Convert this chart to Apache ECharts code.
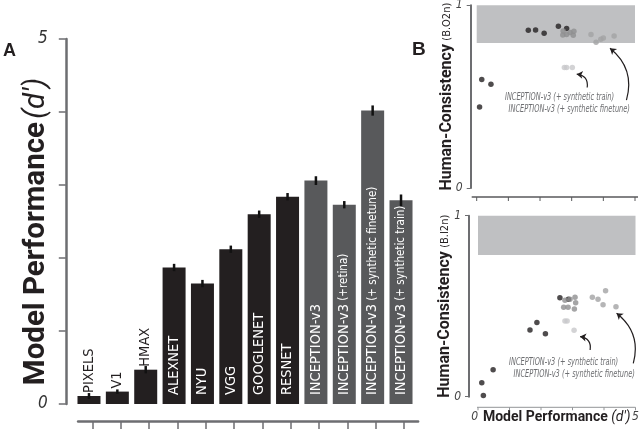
<!DOCTYPE html>
<html><head><meta charset="utf-8">
<script src="https://cdn.jsdelivr.net/npm/echarts@6/dist/echarts.min.js"></script>
<style>html,body{margin:0;padding:0;background:#fff;}#c{width:640px;height:429px;}</style>
</head><body><div id="c"></div>
<script>
// ---------- DATA ----------
const models = ['PIXELS','V1','HMAX','ALEXNET','NYU','VGG','GOOGLENET','RESNET',
  'INCEPTION-v3','INCEPTION-v3 (+retina)','INCEPTION-v3 (+ synthetic finetune)','INCEPTION-v3 (+ synthetic train)'];
const labelMain = ['PIXELS','V1','HMAX','ALEXNET','NYU','VGG','GOOGLENET','RESNET',
  'INCEPTION-v3','INCEPTION-v3','INCEPTION-v3','INCEPTION-v3'];
const labelSuffix = ['','','','','','','','','','(+retina)','(+ synthetic finetune)','(+ synthetic train)'];
const performance = [0.11,0.17,0.47,1.87,1.65,2.12,2.60,2.84,3.06,2.73,4.02,2.79];
const perfError   = [0.04,0.03,0.05,0.05,0.05,0.05,0.05,0.05,0.06,0.05,0.07,0.08];
const isInception = [0,0,0,0,0,0,0,0,1,1,1,1];
const perfTicks = [0,5];
const perfTickValues = [0,1,2,3,4,5];

// Human consistency, B.O2n  [d', consistency]
const o2nBase      = [[0.09,0.443],[0.16,0.594],[0.45,0.568],[1.86,0.865],[1.63,0.863],[2.13,0.847],[2.58,0.885],[2.84,0.873]];
const o2nInception = [[2.73,0.860],[2.72,0.838],[2.84,0.840],[2.95,0.851],[3.07,0.858],[3.05,0.836]];
const o2nFinetune  = [[3.61,0.840],[3.77,0.798],[3.92,0.814],[4.00,0.821],[4.34,0.832]];
const o2nTrain     = [[2.77,0.660],[2.84,0.660],[3.02,0.660]];
const o2nBand      = [0.794,1];
// Human consistency, B.I2n
const i2nBase      = [[0.12,0.077],[0.17,0.006],[0.48,0.149],[1.87,0.410],[1.65,0.368],[2.14,0.348],[2.60,0.547],[2.87,0.538]];
const i2nInception = [[2.76,0.533],[2.92,0.538],[3.08,0.549],[3.10,0.519],[2.72,0.494],[2.86,0.494],[3.06,0.485]];
const i2nFinetune  = [[3.63,0.549],[3.81,0.538],[4.05,0.585],[3.97,0.508],[4.38,0.497]];
const i2nTrain     = [[2.76,0.418],[2.83,0.418],[3.05,0.367]];
const i2nBand      = [0.783,1];
const consTicks = [0,1];
const annotTexts = ['INCEPTION-v3 (+ synthetic train)','INCEPTION-v3 (+ synthetic finetune)'];

// ---------- STYLE / LAYOUT ----------
const NARROW = '"Liberation Sans Narrow","DejaVu Sans Condensed","Roboto",sans-serif';
const BOLD = 'Roboto,"Liberation Sans",sans-serif';
const DARK = '#231f20', GREY = '#58595b';
// annotation anchors in data space (text right end) and arrows [from, to, curveness]
const o2nTextAt = [[4.34,0.499],[4.84,0.432]];
const i2nTextAt = [[4.45,0.188],[4.98,0.124]];
const o2nArrows = [[[3.49,0.550],[3.16,0.623],-0.5],[[4.73,0.481],[4.21,0.765],-0.33]];
const i2nArrows = [[[3.56,0.258],[3.24,0.332],-0.5],[[4.93,0.184],[4.40,0.461],-0.33]];

const chart = echarts.init(document.getElementById('c'), null, {renderer:'canvas'});

const barData = performance.map((v,i)=>({
  value: v,
  itemStyle:{color: isInception[i] ? GREY : DARK},
  label: i<3 ? {position:'top', color:DARK, distance:3} : {position:'insideBottom', color:'#fff', distance:9}
}));

const scatterCommon = {type:'scatter', symbolSize:5.5, silent:true};
function arrowSeries(xi, yi, list){
  return {type:'lines', coordinateSystem:'cartesian2d', xAxisIndex:xi, yAxisIndex:yi, silent:true, z:4,
    symbol:['none','arrow'], symbolSize:6,
    lineStyle:{color:DARK, width:1.2, opacity:1, curveness:-0.4},
    data:list.map(a=>({coords:[a[0],a[1]], lineStyle:{curveness:a[2]}}))};
}

function consAxisY(grid, off, name){
  return {type:'value', gridIndex:grid, position:'left', min:0, max:1, interval:1, offset:off,
    axisLine:{show:true, onZero:false, lineStyle:{color:'#6d6e71', width:2}},
    axisTick:{show:true, length:4, lineStyle:{color:'#6d6e71'}},
    axisLabel:{formatter:v=>consTicks.includes(v)?String(v):'', fontStyle:'italic', fontSize:12, color:'#444', margin:8, fontFamily:NARROW},
    splitLine:{show:false},
    name:`{b|Human-Consistency} {n|(${name})}`, nameLocation:'middle', nameRotate:90, nameGap:16, nameMoveOverlap:false,
    nameTextStyle:{rich:{b:{fontFamily:BOLD, fontWeight:'bold', fontSize:16, color:DARK}, n:{fontFamily:NARROW, fontSize:11, color:DARK}}}
  };
}

const option = {
  animation:false,
  backgroundColor:'#fff',
  grid:[
    {left:74.8, top:39, width:340.4, height:365, outerBoundsMode:'none'},
    {left:476.7, top:5.3, width:158.3, height:182.7, outerBoundsMode:'none'},
    {left:478, top:215.7, width:157.5, height:181, outerBoundsMode:'none'},
    {left:78.1, top:39, width:340, height:365, outerBoundsMode:'none'}
  ],
  xAxis:[
    {type:'category', gridIndex:0, data:models, show:false},
    {type:'category', gridIndex:3, position:'bottom', data:models, offset:17,
      axisLine:{show:true, onZero:false, lineStyle:{color:'#6d6e71', width:2.5}},
      axisTick:{show:true, interval:0, alignWithLabel:true, length:9, lineStyle:{color:'#6d6e71', width:1.5}},
      axisLabel:{show:false, interval:0}},
    {type:'value', gridIndex:1, position:'bottom', min:0, max:5, interval:1, offset:9,
      axisLine:{show:false}, axisTick:{show:false}, axisLabel:{show:false}, splitLine:{show:false}},
    {type:'value', gridIndex:2, position:'bottom', min:0, max:5, interval:1, offset:10.6,
      axisLine:{show:false}, axisTick:{show:false},
      axisLabel:{formatter:v=>perfTicks.includes(v)?String(v):'', alignMinLabel:'right', fontStyle:'italic', fontSize:12, color:'#444', margin:4, fontFamily:NARROW},
      splitLine:{show:false},
      name:'{b|Model Performance} {i|(d′)}', nameLocation:'middle', nameGap:3, nameMoveOverlap:false,
      nameTextStyle:{verticalAlign:'top', rich:{b:{fontFamily:BOLD, fontWeight:'bold', fontSize:14, color:DARK}, i:{fontFamily:BOLD, fontStyle:'italic', fontSize:14, color:DARK}}}}
  ],
  yAxis:[
    {type:'value', gridIndex:0, position:'left', min:0, max:5, interval:1, offset:9,
      axisLine:{show:true, onZero:false, lineStyle:{color:'#6d6e71', width:2.5}},
      axisTick:{show:true, length:7, lineStyle:{color:'#6d6e71', width:1.5}},
      axisLabel:{formatter:v=>perfTicks.includes(v)?String(v):'', fontStyle:'italic', fontSize:17, color:'#333', margin:18, fontFamily:NARROW},
      splitLine:{show:false},
      name:'{b|Model Performance} {i|(d′)}', nameLocation:'middle', nameRotate:90, nameGap:14, nameMoveOverlap:false,
      nameTextStyle:{padding:[0,20,0,0], rich:{b:{fontFamily:BOLD, fontWeight:'bold', fontSize:29.5, color:DARK}, i:{fontFamily:BOLD, fontStyle:'italic', fontSize:29.5, color:DARK}}}},
    {type:'value', gridIndex:3, min:0, max:1, show:false},
    consAxisY(1, 6, 'B.O2n'),
    consAxisY(2, 9, 'B.I2n')
  ],
  series:[
    {type:'bar', xAxisIndex:0, yAxisIndex:0, barWidth:23, data:barData, silent:true,
      label:{show:true, rotate:90, align:'left', verticalAlign:'middle',
        formatter:p=>labelSuffix[p.dataIndex] ? `{m|${labelMain[p.dataIndex]}} {s|${labelSuffix[p.dataIndex]}}` : `{m|${labelMain[p.dataIndex]}}`,
        rich:{m:{fontFamily:NARROW, fontSize:14.5}, s:{fontFamily:NARROW, fontSize:11.5}}}},
    {type:'custom', xAxisIndex:0, yAxisIndex:0, silent:true, z:5,
      data: performance.map((v,i)=>[i, v-perfError[i], v+perfError[i]]),
      encode:{x:0, y:[1,2]},
      renderItem:(params, api)=>{
        const lo = api.coord([api.value(0), api.value(1)]);
        const hi = api.coord([api.value(0), api.value(2)]);
        return {type:'line', shape:{x1:lo[0], y1:lo[1], x2:hi[0], y2:hi[1]}, style:{stroke:'#111', lineWidth:2.5}};
      }},
    // top scatter (B.O2n)
    Object.assign({}, scatterCommon, {xAxisIndex:2, yAxisIndex:2, data:o2nBase, itemStyle:{color:DARK},
      markArea:{silent:true, itemStyle:{color:'#bfc0c2'}, data:[[{coord:[0,o2nBand[0]]},{coord:[5,o2nBand[1]]}]]}}),
    Object.assign({}, scatterCommon, {xAxisIndex:2, yAxisIndex:2, data:o2nInception, itemStyle:{color:'#8e8e90'}}),
    Object.assign({}, scatterCommon, {xAxisIndex:2, yAxisIndex:2, data:o2nFinetune, itemStyle:{color:'#a2a2a4'}}),
    Object.assign({}, scatterCommon, {xAxisIndex:2, yAxisIndex:2, data:o2nTrain, itemStyle:{color:'#c8c8ca'}}),
    arrowSeries(2, 2, o2nArrows),
    // bottom scatter (B.I2n)
    Object.assign({}, scatterCommon, {xAxisIndex:3, yAxisIndex:3, data:i2nBase, itemStyle:{color:DARK},
      markArea:{silent:true, itemStyle:{color:'#bfc0c2'}, data:[[{coord:[0,i2nBand[0]]},{coord:[5,i2nBand[1]]}]]}}),
    Object.assign({}, scatterCommon, {xAxisIndex:3, yAxisIndex:3, data:i2nInception, itemStyle:{color:'#8e8e90'}}),
    Object.assign({}, scatterCommon, {xAxisIndex:3, yAxisIndex:3, data:i2nFinetune, itemStyle:{color:'#a2a2a4'}}),
    Object.assign({}, scatterCommon, {xAxisIndex:3, yAxisIndex:3, data:i2nTrain, itemStyle:{color:'#c8c8ca'}}),
    arrowSeries(3, 3, i2nArrows)
  ]
};
chart.setOption(option);

// annotations: texts placed from data coordinates, condensed horizontally
function annotText(gridIndex, anchors){
  return anchors.map((c,k)=>{
    const p = chart.convertToPixel({gridIndex:gridIndex}, c);
    return {type:'text', x:p[0], y:p[1], scaleX:0.7, silent:true,
      style:{text:annotTexts[k], fill:'#6d6e71', align:'right', verticalAlign:'middle',
        font:'italic 10.5px "Liberation Sans Narrow","DejaVu Sans Condensed",sans-serif'}};
  });
}
// d' axis lines of the scatter panels, placed through the axes' own scale
function perfAxisGraphic(gridIndex, off, color, width, tickLen, extL, extR){
  const xs = perfTickValues.map(v=>chart.convertToPixel({gridIndex:gridIndex}, [v,0])[0]);
  const y0 = chart.convertToPixel({gridIndex:gridIndex}, [0,0])[1] + off;
  const els = [{type:'line', silent:true, z:50, shape:{x1:xs[0]-extL, y1:y0, x2:xs[xs.length-1]+extR, y2:y0}, style:{stroke:color, lineWidth:width}}];
  xs.forEach(x=>els.push({type:'line', silent:true, z:50, shape:{x1:x, y1:y0, x2:x, y2:y0+tickLen}, style:{stroke:color, lineWidth:1}}));
  return els;
}
chart.setOption({graphic:[
  {type:'text', left:3, top:42, style:{text:'A', font:'bold 18px "Liberation Sans", sans-serif', fill:DARK}},
  {type:'text', left:412, top:40, style:{text:'B', font:'bold 19px "Liberation Sans", sans-serif', fill:DARK}}
].concat(annotText(1, o2nTextAt), annotText(2, i2nTextAt),
  perfAxisGraphic(1, 9, '#58595b', 1.5, 4, 5, 3),
  perfAxisGraphic(2, 10.6, '#939598', 1, 3, 1, 0))});
</script></body></html>
